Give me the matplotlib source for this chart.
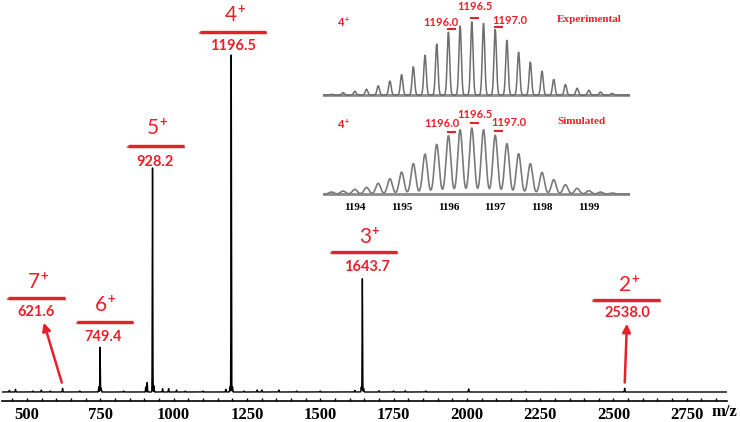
import numpy as np
import matplotlib
matplotlib.use('Agg')
import matplotlib.pyplot as plt
from matplotlib.lines import Line2D
from matplotlib.ticker import MultipleLocator

W, H = 740, 422
RED = '#e8202a'

# main spectrum: peak m/z and relative intensity (%)
peak_mz = [440, 461, 520, 549, 580, 621.6, 680, 745, 749.4, 753, 830, 905, 910,
           928.2, 933, 962.6, 983, 1010, 1040, 1100, 1178, 1192, 1196.5, 1201,
           1240, 1285, 1301, 1359, 1420, 1500, 1618, 1640, 1643.7, 1648, 1700,
           1750, 1790, 1860, 2006, 2200, 2538.0]
peak_int = [0.5, 0.8, 0.3, 0.6, 0.3, 1.1, 0.3, 1.5, 13.4, 1.2, 0.3, 1.5, 2.8,
            66.6, 1.8, 1.0, 1.0, 0.6, 0.3, 0.3, 0.8, 1.5, 100, 1.5,
            0.3, 0.6, 0.6, 0.6, 0.3, 0.3, 0.5, 1.5, 33.7, 1.0, 0.4,
            0.3, 0.4, 0.3, 0.9, 0.2, 1.1]

# charge state labels
charges = ['7', '6', '5', '4', '3', '2']
label_mz = ['621.6', '749.4', '928.2', '1196.5', '1643.7', '2538.0']

# isotope pattern of the 4+ ion
iso_mz = [1193.5 + 0.25 * i for i in range(25)]
iso_exp = [0.9, 3.3, 5.1, 7.9, 12.6, 19.1, 27.9, 38.6, 54.4, 69.8, 86.0, 94.4, 100,
           98.1, 89.8, 74.9, 58.6, 45.1, 32.6, 21.4, 14.4, 9.3, 6.5, 4.2, 2.3]
iso_sim = [3.0, 4.5, 7.1, 10.1, 16.2, 23.2, 33.3, 46.0, 60.6, 75.3, 88.4, 97.5, 100,
           97.5, 88.9, 76.3, 61.1, 46.0, 32.8, 21.7, 14.1, 8.6, 5.1, 3.0, 1.5]
iso_marks = ['1196.0', '1196.5', '1197.0']
iso_ticks = [1194, 1195, 1196, 1197, 1198, 1199]


def px_axes(x0, y0, x1, y1):
    return fig.add_axes([x0 / W, 1 - y1 / H, (x1 - x0) / W, (y1 - y0) / H])


def profile(x, centers, heights, sigma):
    y = np.zeros_like(x)
    for c, h in zip(centers, heights):
        y += h * np.exp(-0.5 * ((x - c) / sigma) ** 2)
    return y


def ylim_for(top_px, base_px, bottom_px, peak_px):
    # y range where 0 sits at base_px and 100 at peak_px
    s = 100.0 / (base_px - peak_px)
    return (-(bottom_px - base_px) * s, (base_px - top_px) * s)


def bar(x0, x1, y):
    fy = 1 - y / H
    fig.add_artist(Line2D([x0 / W, x1 / W], [fy - 1.3 / H, fy - 1.3 / H],
                          transform=fig.transFigure, color='#505050', lw=1.6, alpha=0.6))
    fig.add_artist(Line2D([x0 / W, x1 / W], [fy, fy], transform=fig.transFigure,
                          color=RED, lw=2.4, solid_capstyle='butt'))


def charge_text(x, y, digit, size, weight='normal'):
    fig.text(x / W, 1 - y / H, digit, ha='center', va='center',
             color=RED, family='Lato', fontsize=size, weight=weight)
    fig.text((x + size * 0.42) / W, 1 - (y - size * 0.38) / H, '+', ha='left',
             va='center', color=RED, family='Lato', fontsize=size * 0.62, weight='bold')


fig = plt.figure(figsize=(W / 100, H / 100), dpi=100)

# ---- main spectrum
ax = px_axes(2, 0, 727, 401)
xs = np.arange(415, 2887, 0.25)
ax.plot(xs, profile(xs, peak_mz, peak_int, 0.8), color='black', lw=1.0)
ax.set_xlim(415, 2887)
ax.set_ylim(*ylim_for(0, 392, 401, 55))
for s in ['top', 'right', 'left']:
    ax.spines[s].set_visible(False)
ax.spines['bottom'].set_linewidth(1.2)
ax.set_yticks([])
ax.xaxis.set_major_locator(MultipleLocator(250))
ax.xaxis.set_minor_locator(MultipleLocator(50))
ax.set_xticks([500, 750, 1000, 1250, 1500, 1750, 2000, 2250, 2500, 2750])
ax.tick_params(axis='x', which='both', direction='in', length=2.5, width=1, pad=4)
for t in ax.get_xticklabels():
    t.set_fontfamily('Liberation Serif')
    t.set_fontweight('bold')
    t.set_fontsize(12)
fig.text(724 / W, 1 - 412 / H, 'm/z', ha='center', va='center',
         family='Liberation Serif', weight='bold', fontsize=12)

# charge state annotations: (center x, charge y, bar y, bar x0, bar x1, value y)
lab_pos = [(36, 282, 298, 8, 65, 312),
           (103, 305, 322, 77, 133, 337),
           (155, 128, 146, 128, 184, 162),
           (233, 15, 32, 200, 266, 46),
           (367, 237, 252, 331, 397, 267),
           (627, 285, 300, 593, 660, 313)]
for ch, val, (cx, cy, by, bx0, bx1, vy) in zip(charges, label_mz, lab_pos):
    charge_text(cx - 2, cy, ch, 15)
    bar(bx0, bx1, by)
    fig.text(cx / W, 1 - vy / H, val, ha='center', va='center',
             color=RED, family='Lato', weight='bold', fontsize=10.5)

# arrows for the weak 7+ and 2+ ions
for mz, tip in [(621.6, (43, 320)), (2538.0, (627, 321))]:
    ax.annotate('', xy=(tip[0], H - tip[1]), xycoords='figure pixels',
                xytext=(mz, 2.0), textcoords='data',
                arrowprops=dict(arrowstyle='-|>', color=RED, lw=1.8, mutation_scale=12))

# ---- inset: experimental and simulated isotope patterns
xi = np.arange(1193.32, 1199.88, 0.005)
ax_e = px_axes(323, 5, 630, 97)
ax_e.plot(xi, profile(xi, iso_mz, iso_exp, 0.026), color='#6e6e6e', lw=1.1)
ax_e.set_ylim(*ylim_for(5, 95, 97, 22))
ax_s = px_axes(323, 105, 630, 196)
ax_s.plot(xi, profile(xi, iso_mz, iso_sim, 0.05), color='#7a7a7a', lw=1.2)
ax_s.set_ylim(*ylim_for(105, 194, 196, 128))
for a in (ax_e, ax_s):
    a.set_xlim(1193.32, 1199.88)
    a.axhline(0, color='#8c8c8c', lw=2.0, zorder=0)
    a.set_yticks([])
    for s in a.spines.values():
        s.set_visible(False)
ax_e.set_xticks([])
ax_s.set_xticks(iso_ticks)
ax_s.tick_params(axis='x', length=0, pad=5)
for t in ax_s.get_xticklabels():
    t.set_fontfamily('Liberation Serif')
    t.set_fontweight('bold')
    t.set_fontsize(8)

# inset labels: (title, title x/y, 4+ y, mark label positions, dash positions)
inset_txt = [('Experimental', (589, 19), 23, [(441, 22), (475, 7), (510, 20)],
              [(451, 29), (474, 18), (498, 27)]),
             ('Simulated', (582, 122), 125, [(442, 124), (475, 115), (509, 123)],
              [(451, 132), (474, 123), (498, 131)])]
for title, (tx, ty), qy, lpos, dpos in inset_txt:
    fig.text(tx / W, 1 - ty / H, title, ha='center', va='center', color=RED,
             family='Liberation Serif', weight='bold', fontsize=8)
    charge_text(341, qy, '4', 8, weight='bold')
    for lab, (lx, ly) in zip(iso_marks, lpos):
        fig.text(lx / W, 1 - ly / H, lab, ha='center', va='center', color=RED,
                 family='Lato', weight='bold', fontsize=8)
    for dx, dy in dpos:
        fy = 1 - dy / H
        fig.add_artist(Line2D([(dx - 3.5) / W, (dx + 3.5) / W], [fy, fy],
                              transform=fig.transFigure, color=RED, lw=1.5))

fig.savefig('out.png', dpi=100)
